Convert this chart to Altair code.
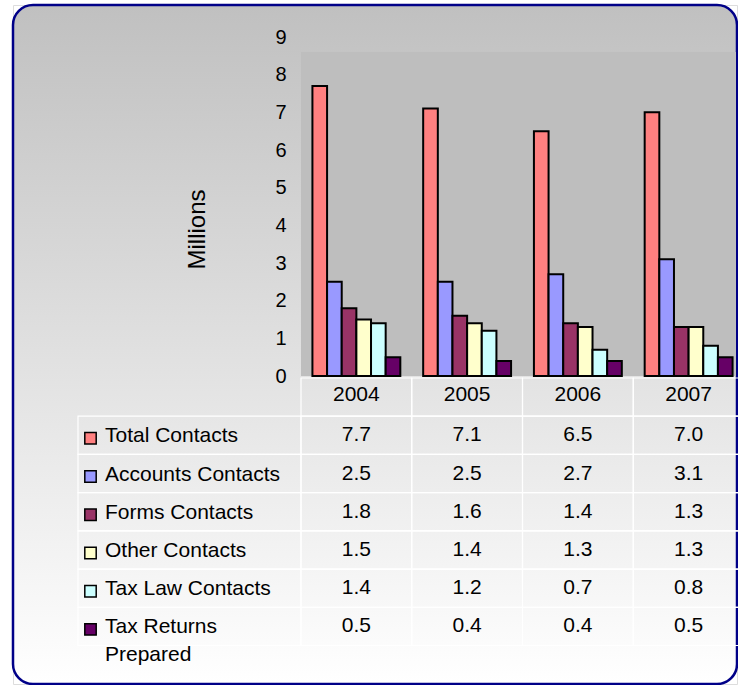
import altair as alt
import pandas as pd

# ---- data ----
years = ["2004", "2005", "2006", "2007"]
series = ["Total Contacts", "Accounts Contacts", "Forms Contacts",
          "Other Contacts", "Tax Law Contacts", "Tax Returns Prepared"]
total_contacts = [7.7, 7.1, 6.5, 7.0]
accounts_contacts = [2.5, 2.5, 2.7, 3.1]
forms_contacts = [1.8, 1.6, 1.4, 1.3]
other_contacts = [1.5, 1.4, 1.3, 1.3]
tax_law_contacts = [1.4, 1.2, 0.7, 0.8]
tax_returns_prepared = [0.5, 0.4, 0.4, 0.5]
colors = ["#FF8080", "#9999FF", "#993366", "#FFFFCC", "#CCFFFF", "#660066"]
y_ticks = list(range(10))
header_key = "Year"

values_by_series = [total_contacts, accounts_contacts, forms_contacts,
                    other_contacts, tax_law_contacts, tax_returns_prepared]

rows = []
for s, vals in zip(series, values_by_series):
    for y, v in zip(years, vals):
        rows.append({"year": y, "series": s, "row": s, "value": v})
df = pd.DataFrame(rows)

labels_df = pd.DataFrame({
    "series": series,
    "row": series,
    "label": [s if s != "Tax Returns Prepared" else "Tax Returns\nPrepared" for s in series],
})
header_df = pd.DataFrame({"year": years, "row": [header_key] * len(years)})

FONT = "Liberation Sans"
W, H = 724, 679
PLOT_L, PLOT_R = 288, 731
PLOT_TOP = 47
Y0, Y9 = 371, 32
TABLE_TOP, TABLE_BOT = 373, 640.5

gradient = {
    "gradient": "linear", "x1": 0, "y1": 0, "x2": 0, "y2": 1,
    "stops": [{"offset": 0, "color": "#c0c0c0"}, {"offset": 1, "color": "#ffffff"}],
}

x_scale = alt.Scale(domain=years, range=[PLOT_L, PLOT_R], paddingInner=0, paddingOuter=0)
y_bar_scale = alt.Scale(domain=[0, 9], range=[Y0, Y9], nice=False, zero=True)
row_scale = alt.Scale(domain=[header_key] + series, range=[TABLE_TOP, TABLE_BOT],
                      paddingInner=0, paddingOuter=0)
color_scale = alt.Scale(domain=series, range=colors)

# frame with gradient fill
frame = alt.Chart(pd.DataFrame({"a": [0]})).mark_rect(
    fill=gradient, stroke="#000088", strokeWidth=2.5, cornerRadius=20
).encode(x=alt.value(0), x2=alt.value(W), y=alt.value(0), y2=alt.value(H))

y_axis = alt.Axis(orient="left", offset=-PLOT_L, ticks=False, domain=False, grid=False, zindex=2,
                  values=y_ticks, labelFont=FONT, labelFontSize=20, labelColor="black",
                  labelPadding=15, title="Millions", titleFont=FONT, titleFontSize=24,
                  titleFontWeight="normal", titleColor="black",
                  titleX=-104, titleY=224, titleBaseline="middle", titleAlign="center",
                  titleAngle=270)

# plot area background
plot_bg = alt.Chart(pd.DataFrame({"a": [0]})).mark_rect(fill="#bebebe").encode(
    x=alt.value(PLOT_L), x2=alt.value(W - 1),
    y=alt.value(PLOT_TOP), y2=alt.value(Y0),
)

bars = alt.Chart(df).mark_bar(stroke="black", strokeWidth=2).encode(
    x=alt.X("year:N", scale=x_scale, axis=None),
    xOffset=alt.XOffset("series:N", scale=alt.Scale(domain=series, paddingInner=0, paddingOuter=0.78)),
    y=alt.Y("value:Q", scale=y_bar_scale, axis=y_axis),
    color=alt.Color("series:N", scale=color_scale, legend=None),
)

plot_layer = alt.layer(plot_bg, bars)

# ---- table ----
border_style = dict(fill="transparent", stroke="white", strokeWidth=1.2)
cell_borders = alt.Chart(df).mark_rect(**border_style).encode(
    x=alt.X("year:N", scale=x_scale, axis=None),
    y=alt.Y("row:N", scale=row_scale, axis=None),
)
header_borders = alt.Chart(header_df).mark_rect(**border_style).encode(
    x=alt.X("year:N", scale=x_scale, axis=None),
    y=alt.Y("row:N", scale=row_scale, axis=None),
)
label_borders = alt.Chart(labels_df).mark_rect(**border_style).encode(
    x=alt.value(65), x2=alt.value(PLOT_L),
    y=alt.Y("row:N", scale=row_scale, axis=None),
)
year_text = alt.Chart(header_df).mark_text(font=FONT, fontSize=21, color="black", baseline="middle", dy=-2).encode(
    x=alt.X("year:N", scale=x_scale, axis=None),
    y=alt.Y("row:N", scale=row_scale, axis=None),
    text="year:N",
)
value_text = alt.Chart(df).mark_text(font=FONT, fontSize=21, color="black", baseline="middle").encode(
    x=alt.X("year:N", scale=x_scale, axis=None),
    y=alt.Y("row:N", scale=row_scale, axis=None),
    text=alt.Text("value:Q", format=".1f"),
)
label_text = alt.Chart(labels_df).mark_text(font=FONT, fontSize=21, color="black", align="left",
                                            baseline="top", dy=-10, lineBreak="\n", lineHeight=28).encode(
    x=alt.value(92),
    y=alt.Y("row:N", scale=row_scale, axis=None),
    text="label:N",
)
squares = alt.Chart(labels_df).mark_square(size=130, stroke="black", strokeWidth=1.5, opacity=1, yOffset=3).encode(
    x=alt.value(77.5),
    y=alt.Y("row:N", scale=row_scale, axis=None),
    color=alt.Color("series:N", scale=color_scale, legend=None),
)

table_layer = alt.layer(cell_borders, header_borders, label_borders, year_text, value_text, label_text, squares)

chart = alt.layer(frame, plot_layer, table_layer).resolve_scale(y="independent").properties(
    width=W, height=H, autosize="none",
    padding={"left": 13, "top": 5, "right": 1, "bottom": 1},
).configure_view(stroke=None).configure(background="white")

chart.save("out.html", embed_options={"renderer": "svg", "actions": False})
